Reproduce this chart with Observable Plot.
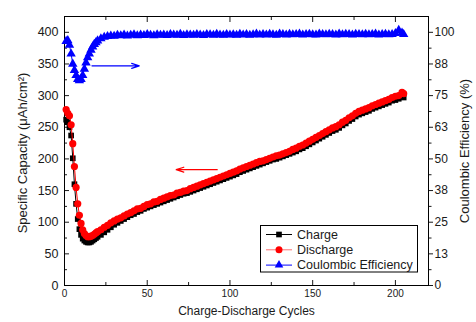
<!DOCTYPE html>
<html><head><meta charset="utf-8">
<script src="https://cdn.jsdelivr.net/npm/d3@7"></script>
<script src="https://cdn.jsdelivr.net/npm/@observablehq/plot@0.6"></script>
<style>body{margin:0;background:#fff}</style>
</head><body><div id="chart"></div>
<script>
const cycles = [1,2,3,4,5,6,7,8,9,10,11,12,13,14,15,16,17,18,19,20,
  22,24,26,28,30,32,34,36,38,40,42,44,46,48,50,52,54,56,58,60,
  62,64,66,68,70,72,74,76,78,80,82,84,86,88,90,92,94,96,98,100,
  102,104,106,108,110,112,114,116,118,120,122,124,126,128,130,132,134,136,138,140,
  142,144,146,148,150,152,154,156,158,160,162,164,166,168,170,172,174,176,178,180,
  182,184,186,188,190,192,194,196,198,200,202,204,205];
const charge = [262,258,250,237,201,160,129,105,89,80,74,71,69,68,68,69,71,73,75,77,
  80,84,88,92,96,99,102,105,108,111,113,116,118,121,123,125,127,129,131,133,
  135,137,139,141,143,145,146,148,150,152,154,156,158,160,162,164,166,168,170,172,
  174,176,179,181,183,185,187,189,191,193,195,197,199,200,202,204,206,208,210,212,
  215,217,220,223,226,229,232,235,238,241,244,246,249,253,256,260,263,267,270,272,
  274,276,279,281,283,285,287,289,292,293,295,298,297];
const discharge = [278,272,268,254,224,188,155,129,111,98,88,82,79,77,77,78,79,81,83,85,
  88,92,95,99,102,105,107,110,113,115,118,121,122,125,128,129,132,133,136,138,
  140,142,143,146,147,149,150,153,155,157,159,161,163,165,167,169,171,173,175,177,
  179,181,184,186,188,190,192,194,196,197,199,201,203,205,206,208,210,212,215,217,
  220,222,225,228,231,234,237,240,243,246,249,251,254,258,261,265,268,272,275,277,
  279,281,284,286,288,290,292,294,297,299,300,305,303];
const efficiency = [96.5,96.8,95,91.5,87.5,85,83,81.5,81,81.5,83,85.5,88,90,91.5,93,94.3,95.3,96,96.7,
  97.5,98.1,98.4,98.6,98.5,98.9,98.7,99.0,98.6,98.9,99.1,98.7,99.0,98.8,99.2,98.9,98.7,99.1,98.9,99.0,
  98.8,99.2,99.0,98.9,99.3,98.8,99.1,99.0,98.9,99.2,99.0,98.8,99.2,99.1,98.9,99.3,99.0,98.9,99.2,99.0,
  99.1,98.9,99.3,99.0,99.2,98.9,99.1,99.4,99.0,99.2,99.0,99.3,99.1,98.9,99.4,99.2,99.0,99.3,99.1,99.2,
  99.4,99.0,99.2,99.3,99.1,99.0,99.4,99.2,99.1,99.3,99.2,99.0,99.4,99.1,99.3,99.2,99.0,99.3,99.2,99.1,
  99.3,99.1,99.2,99.4,99.0,99.2,99.3,99.1,99.2,99.6,100.8,99.8,99.2];
const xTicks = [0,50,100,150,200];
const xMinor = [25,75,125,175];
const yTicks = [0,50,100,150,200,250,300,350,400];
const yMinor = [25,75,125,175,225,275,325,375];
const effTicks = [0,12.5,25,37.5,50,62.5,75,87.5,100];
const effMinor = [6.25,18.75,31.25,43.75,56.25,68.75,81.25,93.75];
const effScale = 4; // 100 % on the right axis = 400 on the left axis
const series = ["Charge","Discharge","Coulombic Efficiency"];
const arrows = [
  {x1: 16.6, y1: 347, x2: 45.2, y2: 347, color: "#0000ff"},
  {x1: 92.3, y1: 183, x2: 67.5, y2: 183, color: "#ff0000"}
];
const titles = {x: "Charge-Discharge Cycles", y: "Specific Capacity (\u03bcAh/cm\u00b2)", y2: "Coulombic Efficiency (%)"};

const rows = cycles.map((c, i) => ({cycle: c, charge: charge[i], discharge: discharge[i], eff: efficiency[i] * effScale}));
const font = "'Liberation Sans', Arial, Helvetica, sans-serif";
const ink = "#1a1a1a";

const plot = Plot.plot({
  width: 476, height: 322,
  marginLeft: 64, marginRight: 48, marginTop: 16, marginBottom: 37,
  style: {fontFamily: font, color: ink, background: "white", overflow: "visible"},
  x: {domain: [0, 220], label: null},
  y: {domain: [0, 425], label: null},
  marks: [
    Plot.axisX(xTicks, {anchor: "bottom", tickSize: -5, tickPadding: 9, fontSize: 10, label: null}),
    Plot.axisX(xMinor, {anchor: "bottom", tickSize: -3, tickFormat: () => "", label: null}),
    Plot.axisX(xTicks, {anchor: "top", tickSize: -5, tickFormat: () => "", label: null}),
    Plot.axisX(xMinor, {anchor: "top", tickSize: -3, tickFormat: () => "", label: null}),
    Plot.axisY(yTicks, {anchor: "left", tickSize: -5, tickPadding: 11, fontSize: 12.5, label: null}),
    Plot.axisY(yMinor, {anchor: "left", tickSize: -3, tickFormat: () => "", label: null}),
    Plot.axisY(effTicks.map(d => d * effScale), {anchor: "right", tickSize: 4, tickPadding: 2, fontSize: 12, tickFormat: d => String(Math.round(d / effScale)), label: null}),
    Plot.axisY(effMinor.map(d => d * effScale), {anchor: "right", tickSize: 2.5, tickFormat: () => "", label: null}),
    Plot.frame({stroke: "#000", strokeWidth: 1}),
    Plot.line(rows, {x: "cycle", y: "charge", stroke: "#000", strokeWidth: 1}),
    Plot.dot(rows, {x: "cycle", y: "charge", symbol: "square", r: 3.2, fill: "#000", stroke: null}),
    Plot.line(rows, {x: "cycle", y: "discharge", stroke: "#ff0000", strokeWidth: 1}),
    Plot.dot(rows, {x: "cycle", y: "discharge", symbol: "circle", r: 3.6, fill: "#ff0000", stroke: null}),
    Plot.line(rows, {x: "cycle", y: "eff", stroke: "#0000ff", strokeWidth: 1}),
    Plot.dot(rows, {x: "cycle", y: "eff", symbol: "triangle", r: 3.5, fill: "#0000ff", stroke: null}),
    Plot.arrow(arrows, {x1: "x1", y1: "y1", x2: "x2", y2: "y2", stroke: "color", strokeWidth: 1.2, headLength: 10, headAngle: 36}),
    Plot.text([titles.x], {frameAnchor: "bottom", dy: 29, fontSize: 12, fill: ink, textAnchor: "middle"}),
    Plot.text([titles.y], {frameAnchor: "left", dx: -42, dy: 2, rotate: -90, fontSize: 13, fill: ink, textAnchor: "middle"}),
    Plot.text([titles.y2], {frameAnchor: "right", dx: 36, rotate: -90, fontSize: 13, fill: ink, textAnchor: "middle"})
  ]
});
document.getElementById("chart").appendChild(plot);

// legend
const svg = d3.select(plot);
const lg = svg.append("g").attr("font-family", font).attr("font-size", 12.5).attr("fill", ink).attr("text-anchor", "start");
lg.append("rect").attr("x", 260.5).attr("y", 225.5).attr("width", 157).attr("height", 46.5)
  .attr("fill", "white").attr("stroke", "#000").attr("stroke-width", 1);
const legendStyle = [
  {stroke: "#000", fill: "#000", sym: d3.symbolSquare, size: Math.PI * 3.2 * 3.2},
  {stroke: "#ff7070", fill: "#ff0000", sym: d3.symbolCircle, size: Math.PI * 3.5 * 3.5},
  {stroke: "#0000ff", fill: "#0000ff", sym: d3.symbolTriangle, size: Math.PI * 3.2 * 3.2}
];
series.forEach((name, i) => {
  const yy = 234.5 + i * 15.3;
  const st = legendStyle[i];
  lg.append("line").attr("x1", 266).attr("x2", 292).attr("y1", yy).attr("y2", yy)
    .attr("stroke", st.stroke).attr("stroke-width", 1);
  lg.append("path").attr("d", d3.symbol(st.sym, st.size)()).attr("transform", `translate(279,${yy})`).attr("fill", st.fill);
  lg.append("text").attr("x", 297).attr("y", yy).attr("dy", "0.35em").attr("text-anchor", "start").text(name);
});
</script>
</body></html>
